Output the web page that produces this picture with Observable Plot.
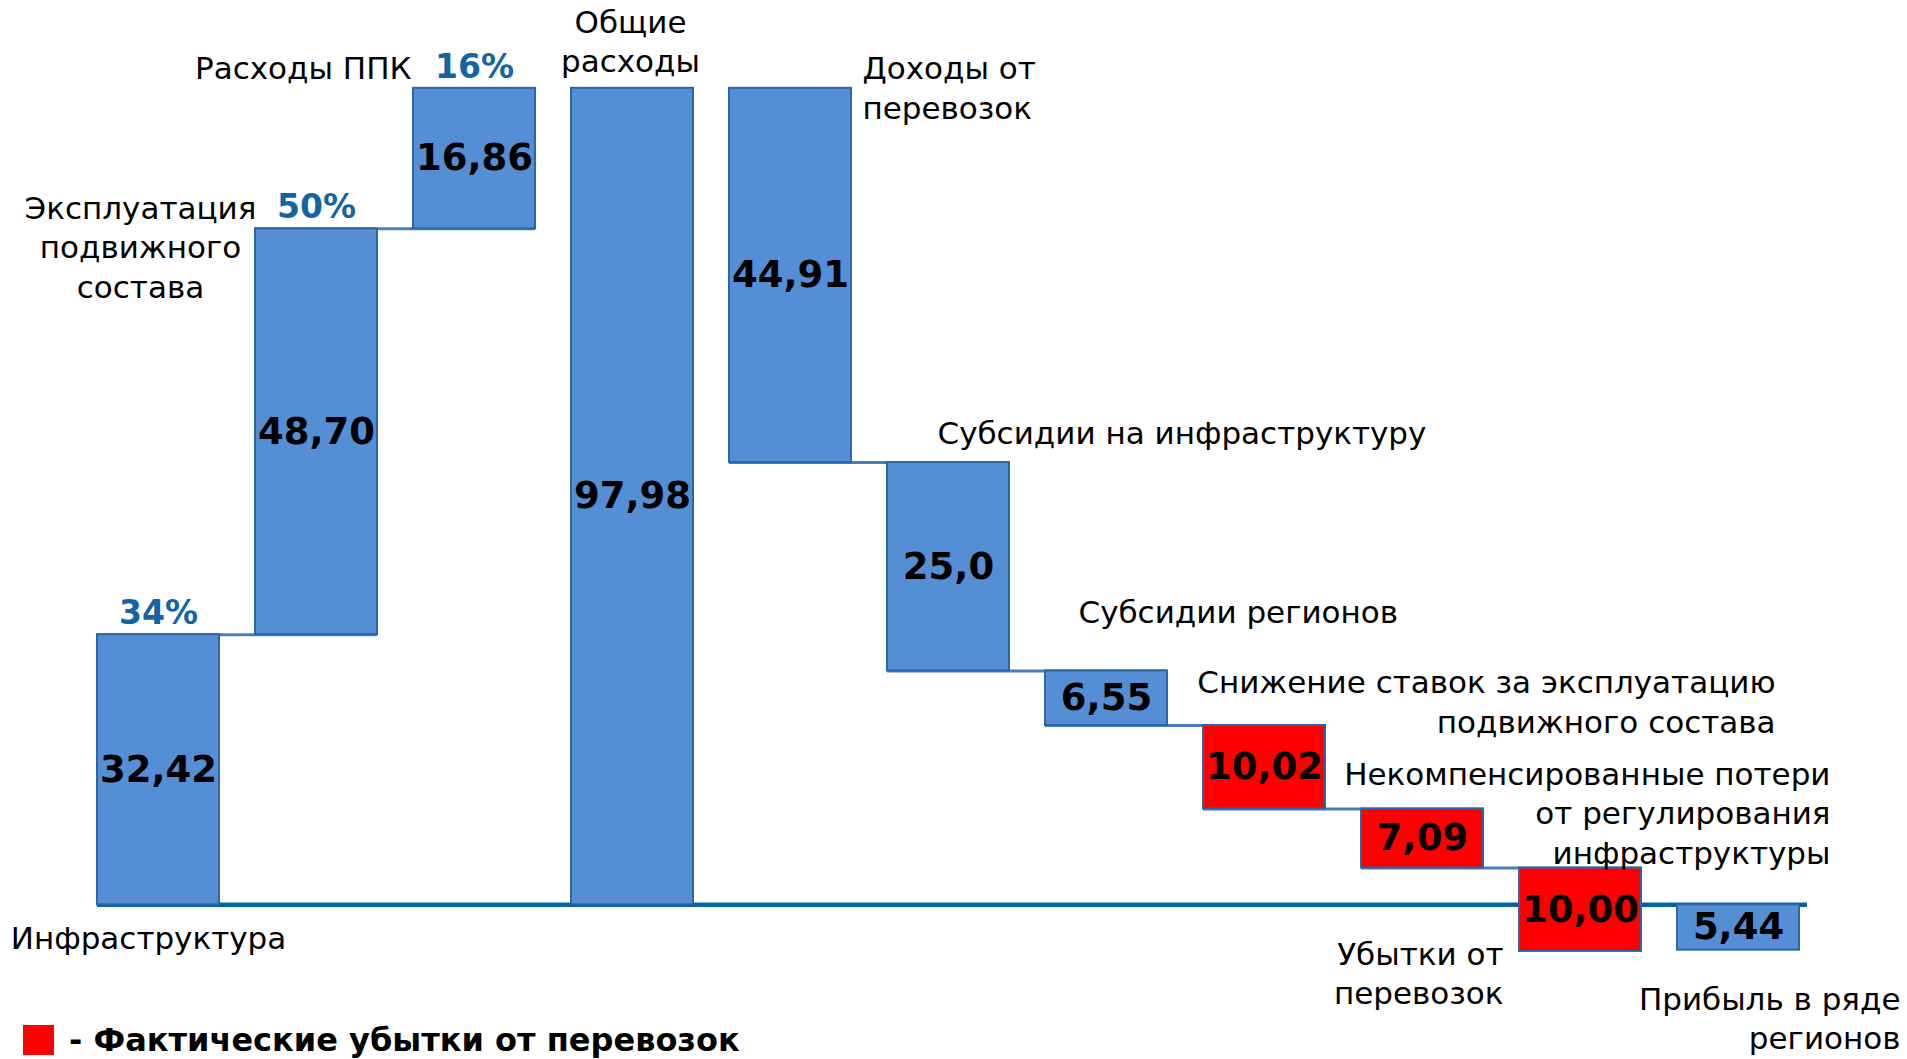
<!DOCTYPE html>
<html>
<head>
<meta charset="utf-8">
<script src="https://cdn.jsdelivr.net/npm/d3@7"></script>
<script src="https://cdn.jsdelivr.net/npm/@observablehq/plot@0.6"></script>
<style>
  html, body { margin: 0; padding: 0; background: #fff; overflow: hidden; }
  #chart svg { display: block; overflow: visible; }
  #legend { height: 38px; display: flex; align-items: center; padding-left: 23px;
            font-family: "DejaVu Sans", Verdana, sans-serif; font-weight: bold; font-size: 32px; color: #000; }
  #legend .sw { width: 31px; height: 30px; background: #ff0000; margin-right: 15px; flex: none; }
</style>
</head>
<body>
<div id="chart"></div>
<div id="legend"><span class="sw"></span><span id="legend-text"></span></div>
<script>
// ---- data ----
const categories = [
  "Инфраструктура",
  "Эксплуатация подвижного состава",
  "Расходы ППК",
  "Общие расходы",
  "Доходы от перевозок",
  "Субсидии на инфраструктуру",
  "Субсидии регионов",
  "Снижение ставок за эксплуатацию подвижного состава",
  "Некомпенсированные потери от регулирования инфраструктуры",
  "Убытки от перевозок",
  "Прибыль в ряде регионов"
];
const categoryLabels = [
  "Инфраструктура",
  "Эксплуатация\nподвижного\nсостава",
  "Расходы ППК",
  "Общие\nрасходы",
  "Доходы от\nперевозок",
  "Субсидии на инфраструктуру",
  "Субсидии регионов",
  "Снижение ставок за эксплуатацию\nподвижного состава",
  "Некомпенсированные потери\nот регулирования\nинфраструктуры",
  "Убытки от\nперевозок",
  "Прибыль в ряде\nрегионов"
];
const values = [32.42, 48.70, 16.86, 97.98, 44.91, 25.0, 6.55, 10.02, 7.09, 10.00, 5.44];
const valueLabels = ["32,42", "48,70", "16,86", "97,98", "44,91", "25,0", "6,55", "10,02", "7,09", "10,00", "5,44"];
const stepTypes = ["increase", "increase", "increase", "total", "decrease", "decrease", "decrease", "loss", "loss", "loss", "profit"];
const shareLabels = ["34%", "50%", "16%"];
const legendLabel = "- Фактические убытки от перевозок";

// ---- waterfall table ----
let cum = 0;
const rows = categories.map((c, i) => {
  const v = values[i], t = stepTypes[i];
  let y1, y2;
  if (t === "increase") { y1 = cum; cum += v; y2 = cum; }
  else if (t === "total") { y1 = 0; y2 = v; cum = v; }
  else if (t === "decrease" || t === "loss") { y1 = cum; cum -= v; y2 = cum; }
  else { y1 = 0; y2 = -v; }
  return {category: c, label: categoryLabels[i], valueLabel: valueLabels[i], type: t,
          y1, y2, top: Math.max(y1, y2), bottom: Math.min(y1, y2), mid: (y1 + y2) / 2, zero: 0};
});
const connectors = [];
for (let i = 0; i < rows.length - 1; i++) {
  const a = rows[i], b = rows[i + 1];
  if (a.type !== "total" && b.type !== "total" && b.type !== "profit") {
    connectors.push({from: a.category, to: b.category, level: a.y2});
  }
}
const shares = rows.slice(0, shareLabels.length).map((r, i) => ({...r, share: shareLabels[i]}));

// ---- label layout (offsets in px) ----
const placement = [
  {ref: "zero", anchor: "middle", dx: -10, dy: 32, line: "middle"},
  {ref: "top", anchor: "middle", dx: -176, dy: -38, line: "top"},
  {ref: "top", anchor: "end", dx: -63, dy: -22, line: "middle"},
  {ref: "top", anchor: "middle", dx: -2, dy: -16, line: "bottom"},
  {ref: "top", anchor: "start", dx: 72, dy: -37, line: "top"},
  {ref: "top", anchor: "start", dx: -11, dy: -31, line: "middle"},
  {ref: "top", anchor: "start", dx: -28, dy: -61, line: "middle"},
  {ref: "top", anchor: "end", dx: 511, dy: 7, line: "bottom"},
  {ref: "top", anchor: "end", dx: 408, dy: -52, line: "top"},
  {ref: "zero", anchor: "end", dx: -77, dy: 32, line: "top"},
  {ref: "zero", anchor: "end", dx: 162, dy: 77, line: "top"}
];

const blue = "#558ed5", red = "#ff0000";
const labelMarks = rows.map((r, i) => {
  const p = placement[i];
  return Plot.text([r], {
    x: "category", y: p.ref, text: "label",
    textAnchor: p.anchor, lineAnchor: p.line, dx: p.dx, dy: p.dy,
    lineHeight: 1.27, fontSize: 31, fill: "#000"
  });
});

const chart = Plot.plot({
  width: 1907, height: 1021,
  marginLeft: 97, marginRight: 100, marginTop: 71, marginBottom: 0,
  x: {type: "band", domain: categories, paddingInner: 0.228, paddingOuter: 0.0253, align: 0, round: false, axis: null},
  y: {domain: [-14, 100], axis: null},
  style: {fontFamily: "'DejaVu Sans', Verdana, sans-serif", fontSize: "30px", overflow: "visible", background: "white"},
  marks: [
    Plot.ruleY(connectors, {x1: "from", x2: "to", y: "level", stroke: "#4a7ebb", strokeWidth: 3}),
    Plot.ruleY([0], {stroke: "#0563a3", strokeWidth: 4.5}),
    Plot.barY(rows, {x: "category", y1: "y1", y2: "y2",
      fill: d => d.type === "loss" ? red : blue, stroke: "#2a67a8", strokeWidth: 2}),
    Plot.text(rows, {x: "category", y: "mid", text: "valueLabel", fontSize: 37, fontWeight: "bold",
      fill: "#000", lineAnchor: "middle"}),
    Plot.text(shares, {x: "category", y: "top", text: "share", fontSize: 33, fontWeight: "bold",
      fill: "#1464a5", lineAnchor: "middle", dy: -21}),
    ...labelMarks
  ]
});
document.getElementById("chart").appendChild(chart);
document.getElementById("legend-text").textContent = legendLabel;
</script>
</body>
</html>
